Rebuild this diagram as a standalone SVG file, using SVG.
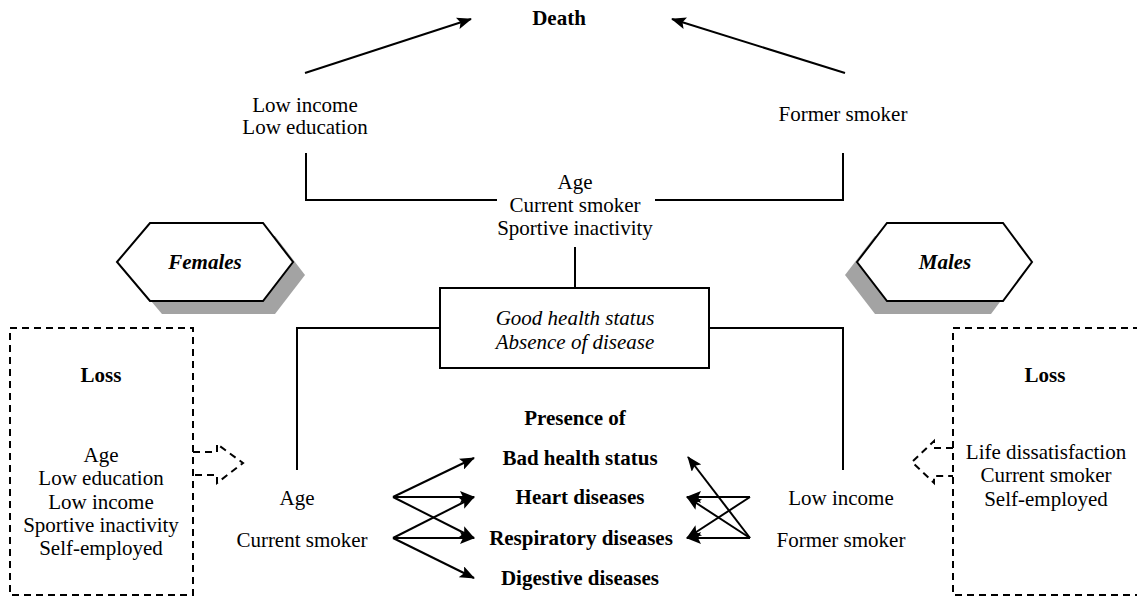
<svg xmlns="http://www.w3.org/2000/svg" width="1137" height="598" viewBox="0 0 1137 598" font-family="Liberation Serif, DejaVu Serif, serif">
<style>
text{font-size:21px;fill:#000;text-anchor:middle}
.b{font-weight:bold}
.i{font-style:italic}
.ln{stroke:#000;stroke-width:2;fill:none}
.ar{stroke:#000;stroke-width:2;fill:none;marker-end:url(#ah)}
.dash{stroke:#000;stroke-width:2;fill:none;stroke-dasharray:7,5}
.hex{fill:#fff;stroke:#000;stroke-width:2}
.shadow{fill:#a3a3a3}
</style>
<defs>
<marker id="ah" viewBox="0 0 15 12" refX="14" refY="6" markerWidth="15" markerHeight="12" markerUnits="userSpaceOnUse" orient="auto">
<path d="M0,0 L15,6 L0,12 L3,6 Z" fill="#000"/>
</marker>
</defs>
<rect width="1137" height="598" fill="#fff"/>

<g id="connectors">
<line class="ar" x1="305" y1="73" x2="471" y2="19"/>
<line class="ar" x1="845" y1="73" x2="672" y2="19"/>
<polyline class="ln" points="306,153 306,200 497,200"/>
<polyline class="ln" points="843,153 843,200 655,200"/>
<line class="ln" x1="575" y1="247" x2="575" y2="288"/>
<polyline class="ln" points="440,328 297,328 297,470"/>
<polyline class="ln" points="709,328 843,328 843,470"/>
<line class="ar" x1="393" y1="497" x2="474" y2="458"/>
<line class="ar" x1="393" y1="497" x2="474" y2="497"/>
<line class="ar" x1="393" y1="497" x2="474" y2="538"/>
<line class="ar" x1="393" y1="538" x2="474" y2="497"/>
<line class="ar" x1="393" y1="538" x2="474" y2="538"/>
<line class="ar" x1="393" y1="538" x2="474" y2="578"/>
<line class="ar" x1="750" y1="497" x2="687" y2="497"/>
<line class="ar" x1="750" y1="497" x2="687" y2="538"/>
<line class="ar" x1="750" y1="538" x2="688" y2="457"/>
<line class="ar" x1="750" y1="538" x2="687" y2="497"/>
<line class="ar" x1="750" y1="538" x2="687" y2="538"/>
<path class="dash" d="M193,452 H217 V444 L243,463 L217,483 V475 H193"/>
<path class="dash" d="M953,448 H934 V441 L912,462 L934,483 V476 H953"/>
</g>

<g id="death"><text class="b" x="559" y="25">Death</text></g>
<g id="low-income-education"><text x="305" y="112">Low income</text><text x="305" y="134">Low education</text></g>
<g id="former-smoker-top"><text x="843" y="121">Former smoker</text></g>
<g id="common-factors"><text x="575" y="189">Age</text><text x="575" y="212">Current smoker</text><text x="575" y="235">Sportive inactivity</text></g>

<g id="good-health">
<rect x="440" y="288" width="269" height="80" fill="#fff" stroke="#000" stroke-width="2"/>
<text class="i" x="575" y="325">Good health status</text>
<text class="i" x="575" y="349">Absence of disease</text>
</g>

<g id="females">
<polygon class="shadow" points="129,275 162,236 275,236 305,275 275,314 162,314"/>
<polygon class="hex" points="117,262 150,223 263,223 293,262 263,301 150,301"/>
<text class="b i" x="205" y="269">Females</text>
</g>
<g id="males">
<polygon class="shadow" points="845,275 875,236 991,236 1020,275 991,314 875,314"/>
<polygon class="hex" points="857,262 887,223 1003,223 1032,262 1003,301 887,301"/>
<text class="b i" x="945" y="269">Males</text>
</g>

<g id="loss-females">
<rect class="dash" x="10" y="328" width="183" height="267"/>
<text class="b" x="101" y="382">Loss</text>
<text x="101" y="462">Age</text>
<text x="101" y="485">Low education</text>
<text x="101" y="509">Low income</text>
<text x="101" y="532">Sportive inactivity</text>
<text x="101" y="555">Self-employed</text>
</g>
<g id="loss-males">
<path class="dash" d="M1140,328 H953 V595 H1140"/>
<text class="b" x="1045" y="382">Loss</text>
<text x="1046" y="459">Life dissatisfaction</text>
<text x="1046" y="482">Current smoker</text>
<text x="1046" y="506">Self-employed</text>
</g>

<g id="females-factors"><text x="297" y="505">Age</text><text x="302" y="547">Current smoker</text></g>
<g id="males-factors"><text x="841" y="505">Low income</text><text x="841" y="547">Former smoker</text></g>

<g id="diseases">
<text class="b" x="575" y="425">Presence of</text>
<text class="b" x="580" y="465">Bad health status</text>
<text class="b" x="580" y="504">Heart diseases</text>
<text class="b" x="581" y="545">Respiratory diseases</text>
<text class="b" x="580" y="585">Digestive diseases</text>
</g>
</svg>
